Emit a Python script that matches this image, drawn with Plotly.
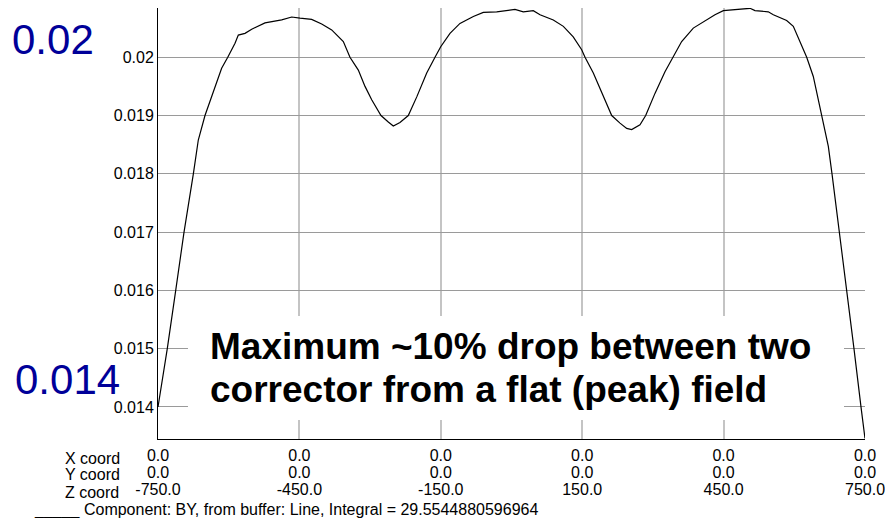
import plotly.graph_objects as go

# Field profile along Z (mm) -> BY component
z_pos = [-750, -730.3, -712.4, -694.8, -675, -664.5, -650.3, -629, -615, -602,
         -586.6, -579.6, -565.4, -551.2, -523, -487.6, -466.3, -448.7, -424, -402.7,
         -381.5, -356.8, -342.7, -325, -310.8, -296.6, -276.9, -261.4, -250.8, -236.6,
         -219, -201, -179.9, -162.3, -150.2, -130.5, -109.3, -81, -59.8, -31.4,
         7.4, 25, 46.2, 60.5, 88.7, 110, 131, 148.9, 156, 173.6,
         194.8, 212.6, 230.2, 244.4, 255, 272.6, 284.7, 304.4, 325.6, 343.3,
         361, 385.7, 410.5, 431.7, 449.4, 481.2, 506, 516.6, 544.8, 555.5,
         583.8, 597.9, 612.1, 626.3, 640.3, 658.1, 672.2, 680, 696, 711,
         726.6, 741.5, 750]
by_field = [0.01400, 0.01500, 0.01600, 0.01700, 0.01800, 0.01858, 0.01900, 0.01950, 0.01981, 0.02000,
            0.02024, 0.02038, 0.02041, 0.02048, 0.02059, 0.02064, 0.02069, 0.02067, 0.02065, 0.02057,
            0.02047, 0.02027, 0.02000, 0.01978, 0.01950, 0.01927, 0.01900, 0.01889, 0.01882, 0.01888,
            0.01900, 0.01932, 0.01973, 0.02000, 0.02018, 0.02041, 0.02058, 0.02070, 0.02077, 0.02078,
            0.02082, 0.02078, 0.02080, 0.02073, 0.02064, 0.02053, 0.02035, 0.02013, 0.02000, 0.01973,
            0.01932, 0.01900, 0.01887, 0.01878, 0.01876, 0.01884, 0.01900, 0.01938, 0.01975, 0.02000,
            0.02027, 0.02050, 0.02063, 0.02073, 0.02080, 0.02082, 0.02084, 0.02080, 0.02078, 0.02073,
            0.02063, 0.02053, 0.02027, 0.02000, 0.01967, 0.01900, 0.01847, 0.01800, 0.01700, 0.01600,
            0.01500, 0.01400, 0.01346]

# Axis tick definitions
x_ticks = [-750, -450, -150, 150, 450, 750]
x_coord_labels = ["0.0", "0.0", "0.0", "0.0", "0.0", "0.0"]
y_coord_labels = ["0.0", "0.0", "0.0", "0.0", "0.0", "0.0"]
z_coord_labels = ["-750.0", "-450.0", "-150.0", "150.0", "450.0", "750.0"]
row_names = ["X coord", "Y coord", "Z coord"]
y_ticks = [0.014, 0.015, 0.016, 0.017, 0.018, 0.019, 0.020]
y_tick_labels = ["0.014", "0.015", "0.016", "0.017", "0.018", "0.019", "0.02"]

legend_text = "_____ Component: BY, from buffer: Line, Integral = 29.5544880596964"
note_lines = ["Maximum ~10% drop between two", "corrector from a flat (peak) field"]
big_labels = ["0.02", "0.014"]

FONT = "Arial, Liberation Sans, sans-serif"
X_RANGE = [-750, 750]
Y_RANGE = [0.01345, 0.020845]

fig = go.Figure()
fig.add_trace(go.Scatter(x=z_pos, y=by_field, mode="lines",
                         line=dict(color="black", width=1.2),
                         showlegend=False, hoverinfo="skip"))
# placeholder traces so the extra label rows get their own x axes
fig.add_trace(go.Scatter(x=[], y=[], xaxis="x2", showlegend=False))
fig.add_trace(go.Scatter(x=[], y=[], xaxis="x3", showlegend=False))

row_axis = dict(range=X_RANGE, tickmode="array", tickvals=x_ticks, showgrid=False,
                zeroline=False, showline=False, ticks="outside", ticklabeloverflow="allow",
                automargin=False,
                tickcolor="rgba(0,0,0,0)", tickfont=dict(family=FONT, size=16, color="black"))

fig.update_layout(
    width=885, height=518,
    margin=dict(l=158, r=20, t=8, b=79, autoexpand=False),
    paper_bgcolor="white", plot_bgcolor="white",
    font=dict(family=FONT, size=16, color="black"),
    xaxis=dict(range=X_RANGE, tickmode="array", tickvals=x_ticks, ticktext=x_coord_labels,
               showgrid=True, gridcolor="#c4c4c4", gridwidth=2, zeroline=False,
               showline=True, linecolor="black", linewidth=1, automargin=False,
               ticks="outside", ticklen=2, tickcolor="rgba(0,0,0,0)", ticklabeloverflow="allow",
               tickfont=dict(family=FONT, size=16, color="black")),
    xaxis2=dict(overlaying="x", anchor="y", side="bottom", ticktext=y_coord_labels,
                ticklen=19, **row_axis),
    xaxis3=dict(overlaying="x", anchor="y", side="bottom", ticktext=z_coord_labels,
                ticklen=36, **row_axis),
    yaxis=dict(range=Y_RANGE, tickmode="array", tickvals=y_ticks, ticktext=y_tick_labels,
               showgrid=True, gridcolor="#9a9a9a", gridwidth=1, zeroline=False,
               showline=True, linecolor="black", linewidth=1, ticks="", automargin=False,
               tickfont=dict(family=FONT, size=16, color="black")),
)

# white panel behind the note
fig.add_shape(type="rect", xref="paper", yref="paper", x0=0.0424, x1=0.9703,
              y0=0.0441, y1=0.2854, fillcolor="white", line=dict(width=0), layer="above")

annotations = []
for name, yp in zip(row_names, [-0.0464, -0.0835, -0.123]):
    annotations.append(dict(text=name, xref="paper", yref="paper", x=-0.1344, y=yp,
                            xanchor="left", yanchor="middle", showarrow=False,
                            font=dict(family=FONT, size=16, color="black")))
annotations.append(dict(text=legend_text, xref="paper", yref="paper", x=-0.1782, y=-0.1647,
                        xanchor="left", yanchor="middle", showarrow=False,
                        font=dict(family=FONT, size=16, color="black")))
for line, yp in zip(note_lines, [0.2135, 0.116]):
    annotations.append(dict(text="<b>" + line + "</b>", xref="paper", yref="paper",
                            x=0.0707, y=yp, xanchor="left", yanchor="middle", showarrow=False,
                            font=dict(family=FONT, size=37, color="black")))
for lab, xp, yp in zip(big_labels, [-0.1485, -0.1273], [0.9258, 0.1369]):
    annotations.append(dict(text=lab, xref="paper", yref="paper", x=xp, y=yp,
                            xanchor="center", yanchor="middle", showarrow=False,
                            font=dict(family=FONT, size=42, color="#000099")))
fig.update_layout(annotations=annotations)

fig.write_html("out.html")
